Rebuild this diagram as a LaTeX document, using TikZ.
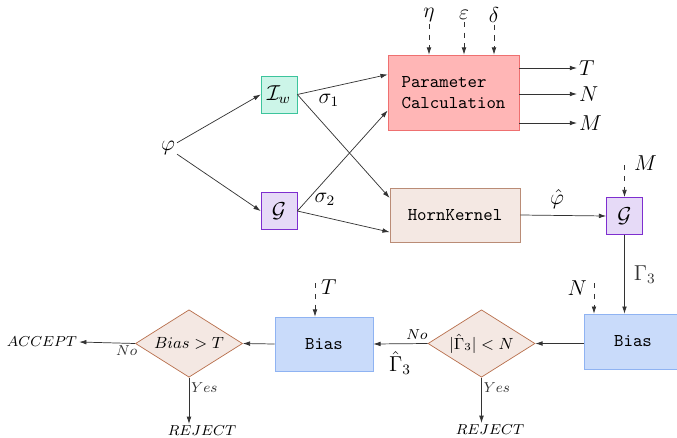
\documentclass[tikz,border=0pt]{standalone}
\usepackage{amsmath,amssymb}
\usepackage{xcolor}
\usetikzlibrary{positioning,arrows.meta,shapes.geometric}

\definecolor{iwfill}{HTML}{CCF5E8}
\definecolor{iwdraw}{HTML}{3CC49C}
\definecolor{gfill}{HTML}{E6DAF7}
\definecolor{gdraw}{HTML}{7E2ECF}
\definecolor{parfill}{HTML}{FFB6B6}
\definecolor{pardraw}{HTML}{EE7070}
\definecolor{hornfill}{HTML}{F4E8E3}
\definecolor{horndraw}{HTML}{BA8C76}
\definecolor{biasfill}{HTML}{C9DBFA}
\definecolor{biasdraw}{HTML}{8FB3F2}
\definecolor{decdraw}{HTML}{B9714F}

\begin{document}
\begin{tikzpicture}[
    x=0.556pt,
    y=-0.556pt,
    box/.style={
        rectangle,
        draw,
        font=\ttfamily,
        inner sep=2pt
    },
    smallbox/.style={
        rectangle,
        draw,
        minimum width=20pt,
        minimum height=20.6pt,
        inner sep=1pt,
        font=\large
    },
    decision/.style={
        diamond,
        aspect=1.6,
        draw=decdraw,
        fill=hornfill,
        minimum width=59.5pt,
        minimum height=37.5pt,
        inner sep=0pt,
        font=\small
    },
    lbl/.style={
        inner sep=1pt,
        font=\large
    },
    tiny/.style={
        inner sep=1pt,
        font=\footnotesize
    },
    arrow/.style={
        -{Latex[length=4pt,width=2.6pt]},
        line width=0.4pt,
        black!80
    },
    dasharrow/.style={
        arrow,
        dashed
    }
]
\useasboundingbox (0,0) rectangle (677,438);

% ---------------- INPUT ----------------
\node[lbl] (phi) at (168,148) {$\varphi$};

% ---------------- FIRST STAGE ----------------
\node[smallbox, fill=iwfill, draw=iwdraw] (iw) at (279,94.5) {$\mathcal{I}_w$};
\node[smallbox, fill=gfill, draw=gdraw] (gL) at (279,211) {$\mathcal{G}$};

% ---------------- PARAMETERS ----------------
\node[box, fill=parfill, draw=pardraw, align=left,
      minimum width=72.8pt, minimum height=41.7pt] (param) at (453.5,92.5)
    {Parameter\\Calculation};
\node[lbl] (eta) at (429,15) {$\eta$};
\node[lbl] (eps) at (464,15) {$\varepsilon$};
\node[lbl] (delta) at (494,15) {$\delta$};
\node[lbl, anchor=west] (outT) at (577,68) {$T$};
\node[lbl, anchor=west] (outN) at (577,94) {$N$};
\node[lbl, anchor=west] (outM) at (577,123) {$M$};

% ---------------- KERNEL ----------------
\node[box, fill=hornfill, draw=horndraw,
      minimum width=72.3pt, minimum height=30pt] (horn) at (455,215) {HornKernel};
\node[smallbox, fill=gfill, draw=gdraw] (gR) at (624.5,216) {$\mathcal{G}$};
\coordinate (mIn) at (624.5,165);
\node[lbl, anchor=west] (mLab) at (632,163) {$M$};

% ---------------- BIAS CHECKS ----------------
\node[box, fill=biasfill, draw=biasdraw,
      minimum width=54.5pt, minimum height=30.5pt] (biasR) at (633,341.5) {Bias};
\coordinate (nIn) at (594,283);
\node[lbl, anchor=east] (nLab) at (589,288) {$N$};
\node[decision] (decR) at (481.5,343.5) {$|\hat{\Gamma}_3| < N$};
\node[tiny] (rejR) at (490,430) {$REJECT$};

\node[box, fill=biasfill, draw=biasdraw,
      minimum width=54.5pt, minimum height=30pt] (biasL) at (324,344) {Bias};
\coordinate (tIn) at (315,283);
\node[lbl, anchor=west] (tLab) at (319,287) {$T$};
\node[decision] (decL) at (189,343.5) {$Bias > T$};
\node[tiny] (rejL) at (202,431) {$REJECT$};
\node[tiny] (acc) at (42,342) {$ACCEPT$};

% ---------------- ARROWS ----------------
\draw[arrow] (phi) -- (iw.west);
\draw[arrow] (phi) -- (gL.west);
\draw[arrow] (iw.east) -- ([yshift=10pt]param.west);
\draw[arrow] (iw.east) -- ([yshift=9.5pt]horn.west);
\draw[arrow] (gL.east) -- ([yshift=-10pt]param.west);
\draw[arrow] (gL.east) -- ([yshift=-9.5pt]horn.west);
\node[lbl] (sig1) at (329,100) {$\sigma_1$};
\node[lbl] (sig2) at (325,199) {$\sigma_2$};

\draw[dasharrow] (eta) -- (eta |- param.north);
\draw[dasharrow] (eps) -- (eps |- param.north);
\draw[dasharrow] (delta) -- (delta |- param.north);
\draw[arrow] (param.east |- outT) -- (outT.west);
\draw[arrow] (param.east |- outN) -- (outN.west);
\draw[arrow] (param.east |- outM) -- (outM.west);

\draw[arrow] (horn.east) -- (gR.west);
\node[lbl] (phiHat) at (557,199) {$\hat{\varphi}$};
\draw[dasharrow] (mIn) -- (gR.north);
\draw[arrow] (gR.south) -- node[lbl, right=4pt] {$\Gamma_3$} (gR.south |- biasR.north);

\draw[dasharrow] (nIn) -- (nIn |- biasR.north);
\draw[arrow] (biasR.west |- decR.east) -- (decR.east);
\draw[arrow] (decR.south) -- node[tiny, right, pos=0.22] {$Yes$} (decR.south |- rejR.north);
\draw[arrow] (decR.west) -- (biasL.east);
\node[tiny] (noR) at (417,335) {$No$};
\node[lbl] (gamHat) at (400,363) {$\hat{\Gamma}_3$};

\draw[dasharrow] (tIn) -- (tIn |- biasL.north);
\draw[arrow] (biasL.west) -- (decL.east);
\draw[arrow] (decL.south) -- node[tiny, right, pos=0.22] {$Yes$} (decL.south |- rejL.north);
\draw[arrow] (decL.west) -- node[tiny, below, pos=0.15] {$No$} (acc.east);

\end{tikzpicture}
\end{document}
